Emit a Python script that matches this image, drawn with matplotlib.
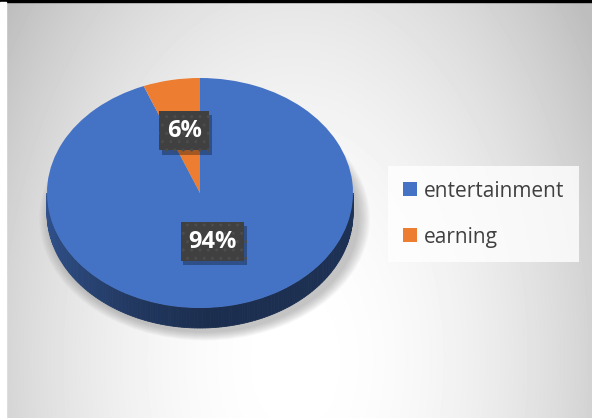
import numpy as np
import matplotlib.pyplot as plt
import matplotlib.patheffects as pe
from matplotlib.patches import Polygon, Ellipse, Rectangle

labels = ['entertainment', 'earning']
shares = [94, 6]
colors = ['#4472C4', '#ED7D31']

W, H = 592, 418
fig = plt.figure(figsize=(W / 100, H / 100), dpi=100)

# soft grey radial background
bg = fig.add_axes([0, 0, 1, 1])
yy, xx = np.mgrid[0:H, 0:W]
d2 = ((xx - 295) / 300.0) ** 2 + ((yy - 360) / 480.0) ** 2
grey = np.clip(255 - 45 * d2, 190, 255) / 255.0
bg.imshow(grey, cmap='gray', vmin=0, vmax=1, extent=(0, W, H, 0),
          aspect='auto', interpolation='bilinear')
bg.set_xlim(0, W)
bg.set_ylim(H, 0)
bg.axis('off')

# pie geometry in pixels: centre, radii of the top ellipse, side depth
cx, cy, rx, ry, depth = 200, 193, 153, 115, 20
m = 1.4
ax = fig.add_axes([(cx - m * rx) / W, 1 - (cy + m * ry) / H,
                   2 * m * rx / W, 2 * m * ry / H])
wedges, _ = ax.pie(shares, colors=colors, startangle=90, counterclock=False,
                   wedgeprops=dict(linewidth=0, zorder=5))
ax.set_aspect('auto')
ax.set_xlim(-m, m)
ax.set_ylim(-m, m)
ax.axis('off')
dz = depth / ry

# drop shadow under the disc
for k in range(10):
    s = 1.08 - 0.008 * k
    ax.add_patch(Ellipse((0.03, -dz - 0.05), 2 * s, 2 * s * 0.98,
                         facecolor='#7a7a7a', alpha=0.05, linewidth=0, zorder=1))


def wedge_at(phi):
    for w in wedges:
        if (phi - w.theta1) % 360 <= (w.theta2 - w.theta1):
            return w
    return wedges[0]


# front rim of the disc, shaded from left to right
phis = np.linspace(180, 360, 181)
for a, b in zip(phis[:-1], phis[1:]):
    mid = (a + b) / 2
    f = np.interp(mid, [180, 215, 250, 275, 360], [0.74, 0.62, 0.47, 0.40, 0.44])
    rgb = np.array(wedge_at(mid).get_facecolor()[:3]) * f
    xa, ya = np.cos(np.radians(a)), np.sin(np.radians(a))
    xb, yb = np.cos(np.radians(b)), np.sin(np.radians(b))
    ax.add_patch(Polygon([(xa, ya), (xb, yb), (xb, yb - dz), (xa, ya - dz)],
                         closed=True, facecolor=rgb, edgecolor=rgb,
                         linewidth=0.6, zorder=3))

# percentage labels in dark boxes
radius = [0.43, 0.55]
for w, r, v in zip(wedges, radius, shares):
    ang = np.radians((w.theta1 + w.theta2) / 2)
    x, y = r * np.cos(ang), r * np.sin(ang)
    t = ax.text(x, y, f'{v}%', ha='center', va='center', fontsize=17,
                fontweight='bold', family='Open Sans', color='white',
                bbox=dict(boxstyle='square,pad=0.32', facecolor='#404040',
                          edgecolor='#4c4c4c', linewidth=0, hatch='..'),
                zorder=9)
    t.get_bbox_patch().set_path_effects(
        [pe.SimplePatchShadow(offset=(2, -3), shadow_rgbFace='black', alpha=0.3),
         pe.Normal()])

leg = fig.legend(wedges, labels, loc='upper left',
                 bbox_to_anchor=(388 / W, 1 - 166 / H),
                 prop=dict(family='Open Sans', size=15), frameon=True,
                 fancybox=False, handlelength=0.68, handleheight=0.68,
                 handletextpad=0.33, labelspacing=1.2, borderpad=0.7,
                 borderaxespad=0)
leg.get_frame().set_facecolor((1, 1, 1, 0.25))
leg.get_frame().set_edgecolor('none')
for t in leg.get_texts():
    t.set_color('#404040')

# frame edges
fig.add_artist(Rectangle((0, 1 - 2 / H), 1, 2 / H, transform=fig.transFigure,
                         color='black', zorder=10))
fig.add_artist(Rectangle((0, 0), 6 / W, 1 - 2 / H, transform=fig.transFigure,
                         color='white', zorder=10))

fig.savefig('out.png', dpi=100)
